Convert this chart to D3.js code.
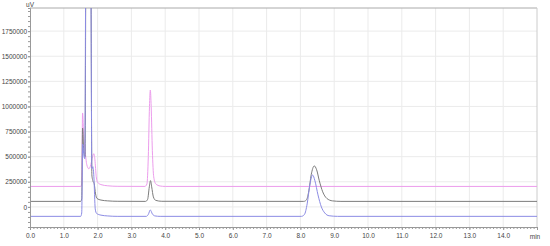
<!DOCTYPE html>
<html>
<head>
<meta charset="utf-8">
<script src="https://cdn.jsdelivr.net/npm/d3@7"></script>
<style>
  body { margin: 0; background: #fff; }
  svg text { font-family: "Liberation Sans", Arial, sans-serif; }
</style>
</head>
<body>
<div id="chart"></div>
<script>
// retention times (min) and signals (uV)
const pinkT = [0, 1.50, 1.53, 1.555, 1.59, 1.63, 1.68, 1.74, 1.80, 1.85, 1.89, 1.92, 1.96, 2.00, 2.10, 2.30, 2.60, 3.40, 3.46, 3.50, 3.535, 3.56, 3.585, 3.62, 3.66, 3.72, 3.85, 4.00, 15];
const pinkV = [204000, 204000, 230000, 935000, 700000, 560000, 420000, 380000, 420000, 500000, 530000, 470000, 300000, 245000, 222000, 210000, 205000, 204000, 230000, 500000, 1000000, 1163000, 1000000, 560000, 300000, 230000, 208000, 204000, 204000];

const grayT = [0, 1.50, 1.53, 1.555, 1.59, 1.63, 1.655, 1.80, 1.83, 1.86, 1.90, 1.94, 1.98, 2.10, 2.30, 2.60, 3.42, 3.48, 3.53, 3.565, 3.60, 3.65, 3.72, 3.90, 8.10, 8.18, 8.25, 8.32, 8.41, 8.48, 8.56, 8.66, 8.78, 8.95, 9.20, 15];
const grayV = [55000, 55000, 80000, 785000, 560000, 500000, 2500000, 2500000, 320000, 260000, 230000, 130000, 85000, 68000, 60000, 56000, 55000, 75000, 200000, 262000, 200000, 100000, 65000, 56000, 55000, 70000, 160000, 320000, 408000, 370000, 260000, 150000, 85000, 60000, 55000, 55000];

const blueT = [0, 1.50, 1.53, 1.56, 1.59, 1.62, 1.655, 1.795, 1.83, 1.86, 1.89, 1.93, 1.97, 2.10, 2.30, 2.60, 3.44, 3.50, 3.56, 3.62, 3.70, 3.85, 8.03, 8.12, 8.20, 8.28, 8.36, 8.43, 8.52, 8.62, 8.72, 8.85, 9.10, 15];
const blueV = [-94000, -94000, -60000, 626000, 520000, 480000, 2500000, 2500000, 380000, 400000, 300000, -20000, -65000, -82000, -90000, -94000, -94000, -75000, -30000, -70000, -90000, -94000, -94000, -75000, 30000, 220000, 318000, 260000, 120000, 0, -60000, -88000, -94000, -94000];

const xTicks = [0, 1, 2, 3, 4, 5, 6, 7, 8, 9, 10, 11, 12, 13, 14];
const yTicks = [0, 250000, 500000, 750000, 1000000, 1250000, 1500000, 1750000];

const W = 550, H = 246;
const pLeft = 30, pRight = 537, pTop = 8, pBottom = 227;

const svg = d3.select("#chart").append("svg")
  .attr("width", W)
  .attr("height", H);

const x = d3.scaleLinear().domain([0, 15]).range([pLeft, pRight]);
const y = d3.scaleLinear().domain([-200000, 1980000]).range([pBottom, pTop]);

// grid
svg.append("g")
  .selectAll("line")
  .data(xTicks.slice(1))
  .enter().append("line")
  .attr("x1", d => x(d)).attr("x2", d => x(d))
  .attr("y1", pTop).attr("y2", pBottom)
  .attr("stroke", "#ebebeb");

svg.append("g")
  .selectAll("line")
  .data(yTicks)
  .enter().append("line")
  .attr("x1", pLeft).attr("x2", pRight)
  .attr("y1", d => y(d)).attr("y2", d => y(d))
  .attr("stroke", "#ebebeb");

// frame top / right
svg.append("line").attr("x1", pLeft).attr("x2", pRight).attr("y1", pTop).attr("y2", pTop).attr("stroke", "#aaa");
svg.append("line").attr("x1", pRight).attr("x2", pRight).attr("y1", pTop).attr("y2", pBottom).attr("stroke", "#ccc");

// traces
svg.append("clipPath").attr("id", "clip")
  .append("rect").attr("x", pLeft).attr("y", pTop).attr("width", pRight - pLeft).attr("height", pBottom - pTop);

const line = d3.line()
  .x(d => x(d[0]))
  .y(d => y(d[1]))
  .curve(d3.curveMonotoneX);

const traces = [
  { t: pinkT, v: pinkV, color: "#ec9cec" },
  { t: grayT, v: grayV, color: "#7c7c7c" },
  { t: blueT, v: blueV, color: "#8c8ce4" }
];

svg.append("g")
  .attr("clip-path", "url(#clip)")
  .selectAll("path")
  .data(traces)
  .enter().append("path")
  .attr("d", s => line(s.t.map((t, i) => [t, s.v[i]])))
  .attr("fill", "none")
  .attr("stroke", s => s.color)
  .attr("stroke-width", 1);

// axes
const xAxis = svg.append("g")
  .attr("transform", `translate(0, ${pBottom})`)
  .call(d3.axisBottom(x).tickValues(xTicks).tickFormat(d3.format(".1f")).tickSize(3).tickPadding(3));

svg.append("g")
  .attr("transform", `translate(0, ${pBottom})`)
  .call(d3.axisBottom(x).tickValues(d3.range(0, 15.01, 0.1)).tickFormat("").tickSize(2))
  .call(g => g.select(".domain").remove());

const yAxis = svg.append("g")
  .attr("transform", `translate(${pLeft}, 0)`)
  .call(d3.axisLeft(y).tickValues(yTicks).tickFormat(d3.format("d")).tickSize(2).tickPadding(1));

svg.append("g")
  .attr("transform", `translate(${pLeft}, 0)`)
  .call(d3.axisLeft(y).tickValues(d3.range(-200000, 1980001, 50000)).tickFormat("").tickSize(2))
  .call(g => g.select(".domain").remove());

svg.selectAll(".domain, .tick line").attr("stroke", "#999");
xAxis.selectAll("text").attr("font-size", 6.5).attr("fill", "#444");
yAxis.selectAll("text").attr("font-size", 6.5).attr("fill", "#444");

svg.append("text")
  .attr("x", x(15) - 2).attr("y", pBottom + 12)
  .attr("text-anchor", "middle")
  .attr("font-size", 6.5).attr("fill", "#444")
  .text("min");

svg.append("text")
  .attr("x", pLeft).attr("y", pTop - 1)
  .attr("text-anchor", "middle")
  .attr("font-size", 6.5).attr("fill", "#444")
  .text("uV");
</script>
</body>
</html>
